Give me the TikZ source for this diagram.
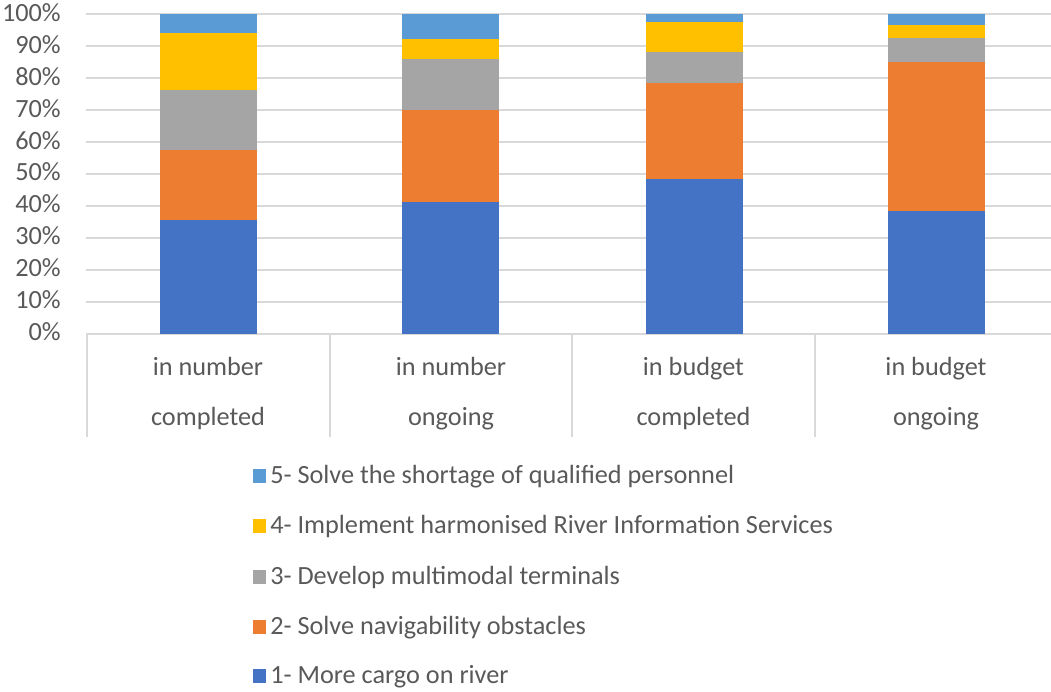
\documentclass[tikz,border=0pt]{standalone}
\usepackage{fontspec}
\setmainfont{Carlito}
\definecolor{sone}{HTML}{4472C4}
\definecolor{stwo}{HTML}{ED7D31}
\definecolor{sthree}{HTML}{A5A5A5}
\definecolor{sfour}{HTML}{FFC000}
\definecolor{sfive}{HTML}{5B9BD5}
\definecolor{gridc}{HTML}{D9D9D9}
\definecolor{txt}{HTML}{595959}
\begin{document}
\begin{tikzpicture}[x=0.75pt,y=-0.75pt,
  every node/.style={font=\fontsize{19.7}{23}\selectfont, text=txt, inner sep=0pt},
  gridline/.style={draw=gridc, line width=1.5pt},
  sepline/.style={draw=gridc, line width=1.2pt},
  ticklbl/.style={anchor=base east},
  catlbl/.style={anchor=base},
  legtxt/.style={anchor=base west},
  legbox/.style={minimum width=10pt, minimum height=10pt, anchor=center}]
\useasboundingbox (0,0) rectangle (1051,692);
\pgfmathsetmacro{\yz}{333.5}
\pgfmathsetmacro{\yu}{3.19}
% gridlines and tick labels
\foreach \p in {0,...,10}{
  \pgfmathtruncatemacro{\v}{\p*10}
  \pgfmathsetmacro{\yy}{\yz-\p*10*\yu}
  \pgfmathsetmacro{\yt}{\yy+7}
  \coordinate (gl\p) at (86,\yy);
  \coordinate (gr\p) at (1051,\yy);
  \draw[gridline] (gl\p) -- (gr\p);
  \node[ticklbl] (tick\p) at (61,\yt) {\v\%};
}
% category separators
\foreach \sx [count=\i] in {87,330,572,815}{
  \coordinate (st\i) at (\sx,\yz);
  \coordinate (sb\i) at (\sx,437);
  \draw[sepline] (st\i) -- (sb\i);
}
% bars
\foreach \cx/\a/\b/\c/\d [count=\i] in {208/35.5/57.6/76.3/94.1, 450.5/41.2/70.1/86.0/92.2, 694/48.3/78.5/88.2/97.6, 936.5/38.5/85.2/92.7/96.7}{
  \pgfmathsetmacro{\xl}{\cx-48.5}
  \pgfmathsetmacro{\xr}{\cx+48.5}
  \pgfmathsetmacro{\ya}{\yz-\a*\yu}
  \pgfmathsetmacro{\yb}{\yz-\b*\yu}
  \pgfmathsetmacro{\yc}{\yz-\c*\yu}
  \pgfmathsetmacro{\yd}{\yz-\d*\yu}
  \pgfmathsetmacro{\ye}{\yz-100*\yu}
  \fill[sone] (\xl,\yz) rectangle (\xr,\ya);
  \fill[stwo] (\xl,\ya) rectangle (\xr,\yb);
  \fill[sthree] (\xl,\yb) rectangle (\xr,\yc);
  \fill[sfour] (\xl,\yc) rectangle (\xr,\yd);
  \fill[sfive] (\xl,\yd) rectangle (\xr,\ye);
}
% category labels
\node[catlbl] (c1a) at (208,375) {in number};
\node[catlbl] (c1b) at (208,425) {completed};
\node[catlbl] (c2a) at (451,375) {in number};
\node[catlbl] (c2b) at (451,425) {ongoing};
\node[catlbl] (c3a) at (693.5,375) {in budget};
\node[catlbl] (c3b) at (693.5,425) {completed};
\node[catlbl] (c4a) at (936,375) {in budget};
\node[catlbl] (c4b) at (936,425) {ongoing};
% legend
\node[legbox, fill=sfive] (k5) at (259.5,476) {};
\node[legtxt] (l5) at (270,483) {5- Solve the shortage of qualified personnel};
\node[legbox, fill=sfour] (k4) at (259.5,526) {};
\node[legtxt] (l4) at (270,533) {4- Implement harmonised River Information Services};
\node[legbox, fill=sthree] (k3) at (259.5,577) {};
\node[legtxt] (l3) at (270,584) {3- Develop multimodal terminals};
\node[legbox, fill=stwo] (k2) at (259.5,627) {};
\node[legtxt] (l2) at (270,634) {2- Solve navigability obstacles};
\node[legbox, fill=sone] (k1) at (259.5,676) {};
\node[legtxt] (l1) at (270,683) {1- More cargo on river};
\end{tikzpicture}
\end{document}
